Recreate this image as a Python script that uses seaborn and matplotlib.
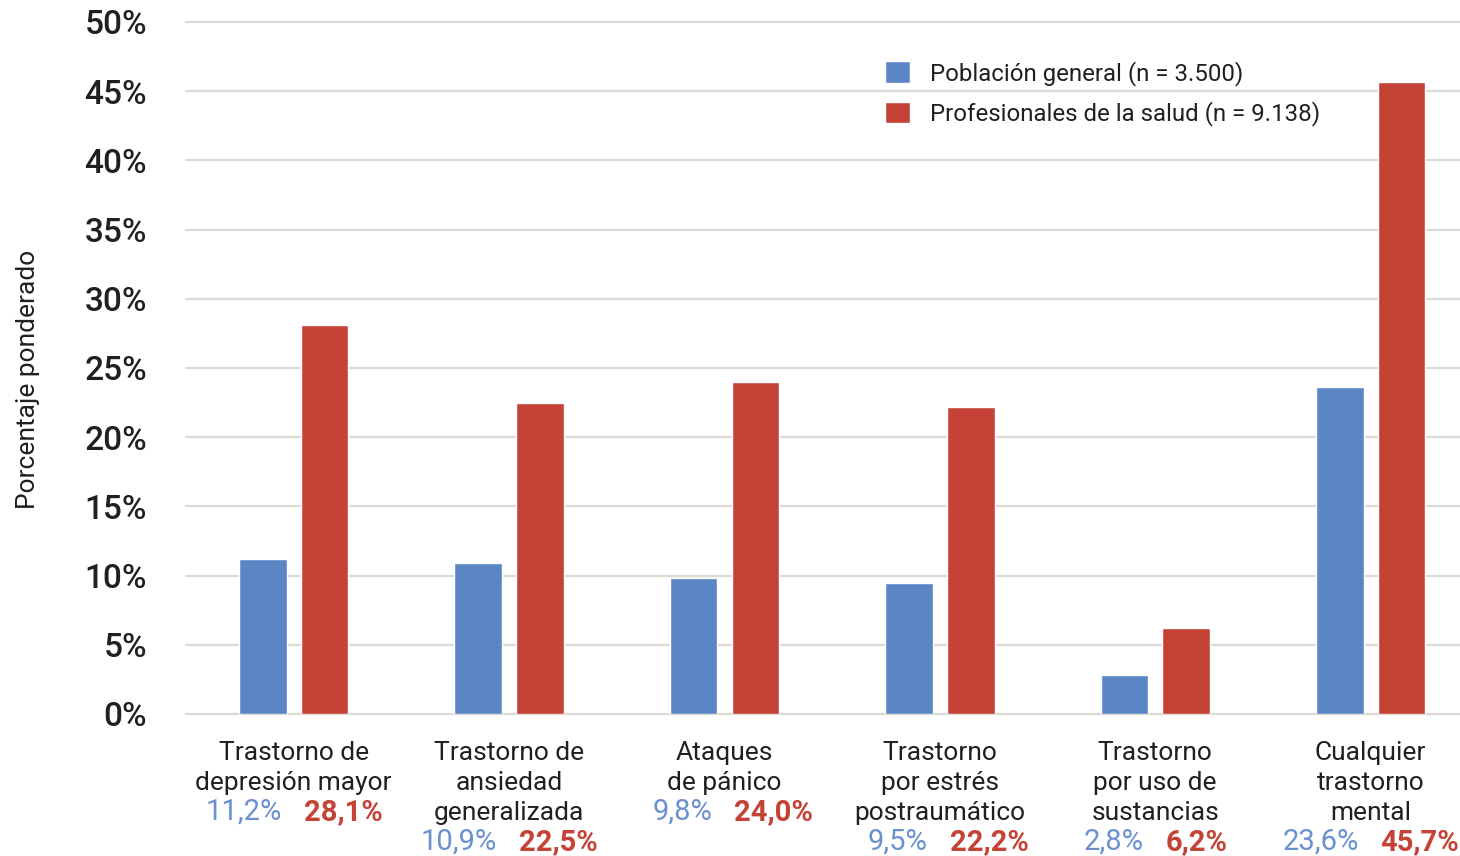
import matplotlib
matplotlib.use("Agg")
import matplotlib.pyplot as plt
import seaborn as sns
import pandas as pd

# Data
categories = [
    "Trastorno de\ndepresión mayor",
    "Trastorno de\nansiedad\ngeneralizada",
    "Ataques\nde pánico",
    "Trastorno\npor estrés\npostraumático",
    "Trastorno\npor uso de\nsustancias",
    "Cualquier\ntrastorno\nmental",
]
series_names = ["Población general (n = 3.500)", "Profesionales de la salud (n = 9.138)"]
poblacion_general = [11.2, 10.9, 9.8, 9.5, 2.8, 23.6]
profesionales_salud = [28.1, 22.5, 24.0, 22.2, 6.2, 45.7]
y_ticks = [0, 5, 10, 15, 20, 25, 30, 35, 40, 45, 50]
y_label = "Porcentaje ponderado"

BLUE = "#5b86c6"
RED = "#c44336"
BLUE_TXT = "#6a90d0"
GRID = "#dcdad2"
TEXT = "#231f20"

df = pd.DataFrame({
    "categoria": categories * 2,
    "valor": poblacion_general + profesionales_salud,
    "serie": [series_names[0]] * len(categories) + [series_names[1]] * len(categories),
})

sns.set_style("white")
plt.rcParams["font.family"] = ["Roboto", "DejaVu Sans"]

DPI = 100
fig = plt.figure(figsize=(14.6, 8.56), dpi=DPI)
ax = fig.add_axes([186 / 1460, 142 / 856, 1274 / 1460, 692 / 856])

sns.barplot(
    data=df, x="categoria", y="valor", hue="serie",
    order=categories, hue_order=series_names,
    palette=[BLUE, RED], saturation=1,
    width=0.574, gap=0.23, ax=ax, zorder=3,
)

ax.set_xlim(-0.5, 5.415)
ax.set_ylim(0, 50)
ax.set_yticks(y_ticks)
ax.set_yticklabels([f"{t}%" for t in y_ticks], fontsize=24, color=TEXT, fontweight="medium")
ax.tick_params(axis="y", length=0, pad=28)
ax.tick_params(axis="x", length=0, pad=19.5)
ax.set_xticks(range(len(categories)))
ax.set_xticklabels(categories, fontsize=19, color=TEXT, linespacing=1.31, va="top")
ax.set_xlabel("")
ax.set_ylabel(y_label, fontsize=19, color=TEXT)
ax.yaxis.set_label_coords(-0.1146, 0.483)

ax.yaxis.grid(True, color=GRID, linewidth=1.6, zorder=0)
ax.set_axisbelow(True)
for s in ax.spines.values():
    s.set_visible(False)
for line in ax.get_ygridlines():
    line.set_clip_on(False)

# Value row under each category name
pt = 72 / DPI
trans = ax.get_xaxis_transform()
for i, name in enumerate(categories):
    n_lines = name.count("\n") + 1
    off = (38 + 30 * n_lines) * pt
    b = f"{poblacion_general[i]:.1f}".replace(".", ",") + "%"
    r = f"{profesionales_salud[i]:.1f}".replace(".", ",") + "%"
    ax.annotate(b, xy=(i, 0), xycoords=trans, xytext=(-12 * pt, -off),
                textcoords="offset points", ha="right", va="center",
                fontsize=21, color=BLUE_TXT, annotation_clip=False)
    ax.annotate(r, xy=(i, 0), xycoords=trans, xytext=(10 * pt, -off),
                textcoords="offset points", ha="left", va="center",
                fontsize=21, color=RED, fontweight="bold", annotation_clip=False)

leg = ax.legend(
    loc="upper left", bbox_to_anchor=(0.5415, 0.958), frameon=False,
    fontsize=17.3, handlelength=1.0, handleheight=1.0, labelspacing=0.65,
    handletextpad=0.85, borderaxespad=0,
)
for t in leg.get_texts():
    t.set_color(TEXT)

fig.savefig("out.png", dpi=DPI, facecolor="white")
